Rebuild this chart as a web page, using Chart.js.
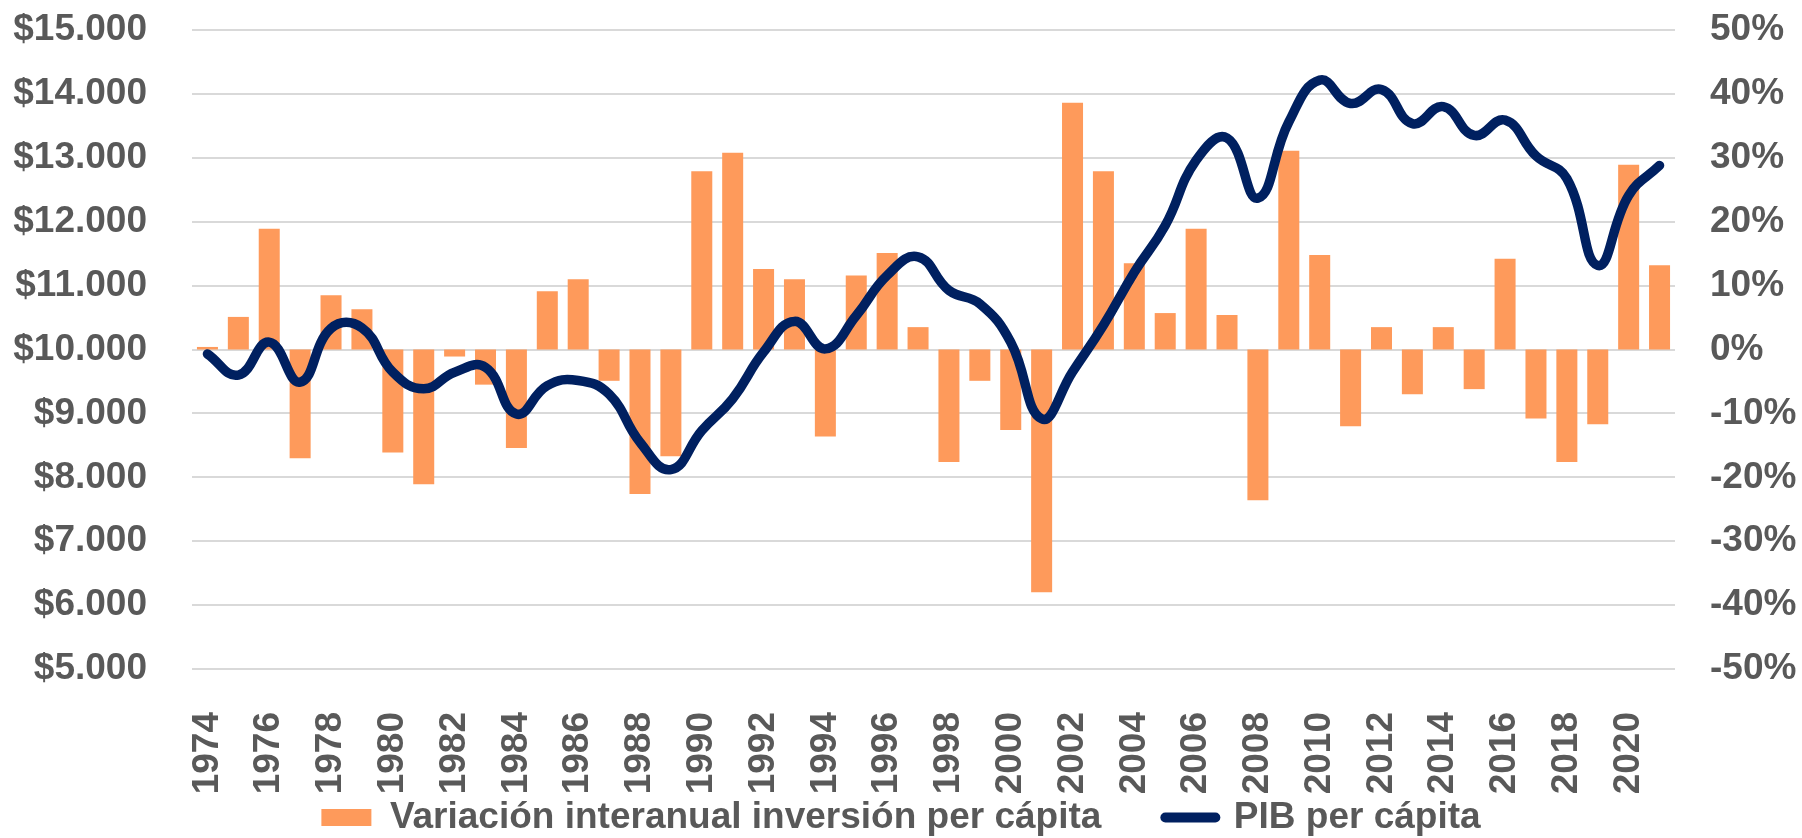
<!DOCTYPE html>
<html>
<head>
<meta charset="utf-8">
<script src="https://cdn.jsdelivr.net/npm/chart.js@4.4.0/dist/chart.umd.min.js"></script>
<style>
  html, body { margin: 0; padding: 0; background: #ffffff; }
  #wrap { width: 1802px; height: 838px; position: relative; }
</style>
</head>
<body>
<div id="wrap"><canvas id="c" width="1802" height="838"></canvas></div>
<script>
const years = [1974,1975,1976,1977,1978,1979,1980,1981,1982,1983,1984,1985,1986,1987,1988,1989,1990,1991,1992,1993,1994,1995,1996,1997,1998,1999,2000,2001,2002,2003,2004,2005,2006,2007,2008,2009,2010,2011,2012,2013,2014,2015,2016,2017,2018,2019,2020,2021];

// Variación interanual inversión per cápita (%)
const inversionVar = [0.4,5.1,18.9,-17.0,8.5,6.3,-16.1,-21.1,-1.1,-5.5,-15.4,9.1,11.0,-4.9,-22.6,-16.7,27.9,30.8,12.6,11.0,-13.6,11.6,15.1,3.5,-17.6,-4.9,-12.6,-38.0,38.6,27.9,13.5,5.7,18.9,5.4,-23.6,31.1,14.8,-12.0,3.5,-7.0,3.5,-6.2,14.2,-10.8,-17.6,-11.7,28.9,13.2];

// PIB per cápita ($)
const pibPerCapita = [9930,9600,10115,9490,10330,10340,9645,9385,9645,9720,8990,9435,9515,9300,8550,8120,8730,9230,9960,10440,10010,10530,11160,11450,10925,10715,10115,8915,9650,10380,11210,11940,12960,13310,12370,13560,14215,13850,14070,13535,13800,13350,13590,13030,12675,11315,12410,12880];

const leftTicks = [5000,6000,7000,8000,9000,10000,11000,12000,13000,14000,15000];
const rightTicks = [-50,-40,-30,-20,-10,0,10,20,30,40,50];

const seriesNames = ['Variación interanual inversión per cápita', 'PIB per cápita'];

const TXT = '#595959';
const FONT = { family: "'Liberation Sans', Arial, sans-serif", size: 37, weight: 'bold' };

function fmtMoney(v) {
  return '$' + String(Math.round(v)).replace(/\B(?=(\d{3})+(?!\d))/g, '.');
}

new Chart(document.getElementById('c'), {
  data: {
    labels: years.map(String),
    datasets: [
      {
        type: 'bar',
        label: seriesNames[0],
        data: inversionVar,
        yAxisID: 'y1',
        backgroundColor: '#FE9A5B',
        borderWidth: 0,
        categoryPercentage: 1.0,
        barPercentage: 0.68,
        order: 1
      },
      {
        type: 'line',
        label: seriesNames[1],
        data: pibPerCapita,
        yAxisID: 'y',
        borderColor: '#002060',
        backgroundColor: '#002060',
        borderWidth: 9.5,
        borderCapStyle: 'round',
        borderJoinStyle: 'round',
        pointRadius: 0,
        tension: 0.45,
        fill: false,
        order: 0
      }
    ]
  },
  options: {
    responsive: false,
    animation: false,
    devicePixelRatio: 1,
    layout: { padding: { left: 0, right: 0, top: 30, bottom: -8 } },
    plugins: {
      tooltip: { enabled: false },
      legend: {
        position: 'bottom',
        labels: {
          usePointStyle: true,
          pointStyleWidth: 50,
          boxHeight: 17,
          padding: 64,
          color: TXT,
          font: FONT,
          sort: (a, b) => a.datasetIndex - b.datasetIndex,
          generateLabels: (chart) => {
            const items = Chart.defaults.plugins.legend.labels.generateLabels(chart);
            items.forEach(it => {
              if (it.datasetIndex === 0) { it.pointStyle = 'rect'; it.lineWidth = 0; }
              else { it.pointStyle = 'line'; it.lineWidth = 10; it.lineCap = 'round'; }
            });
            return items;
          }
        }
      }
    },
    scales: {
      x: {
        type: 'category',
        offset: true,
        grid: { display: false },
        border: { display: false },
        ticks: {
          autoSkip: false,
          minRotation: 90,
          maxRotation: 90,
          padding: 35,
          color: TXT,
          font: FONT,
          callback: function(value, index) { return index % 2 === 0 ? String(years[index]) : ''; }
        },
        afterFit: (scale) => {
          scale.height = 66;
          scale._computeLabelArea = () => undefined;
        }
      },
      y: {
        position: 'left',
        min: leftTicks[0],
        max: leftTicks[leftTicks.length - 1],
        afterBuildTicks: (scale) => { scale.ticks = leftTicks.map(v => ({ value: v })); },
        grid: { color: '#D9D9D9', lineWidth: 2, drawTicks: false },
        border: { display: false },
        ticks: { padding: 45, color: TXT, font: FONT, callback: (v) => fmtMoney(v) },
        afterFit: (scale) => { scale.width = 192; scale.paddingTop = 0; scale.paddingBottom = 0; }
      },
      y1: {
        position: 'right',
        min: rightTicks[0],
        max: rightTicks[rightTicks.length - 1],
        afterBuildTicks: (scale) => { scale.ticks = rightTicks.map(v => ({ value: v })); },
        grid: { display: false, drawTicks: false },
        border: { display: false },
        ticks: { padding: 35, color: TXT, font: FONT, callback: (v) => Math.round(v) + '%' },
        afterFit: (scale) => { scale.width = 127; scale.paddingTop = 0; scale.paddingBottom = 0; }
      }
    }
  }
});
</script>
</body>
</html>
